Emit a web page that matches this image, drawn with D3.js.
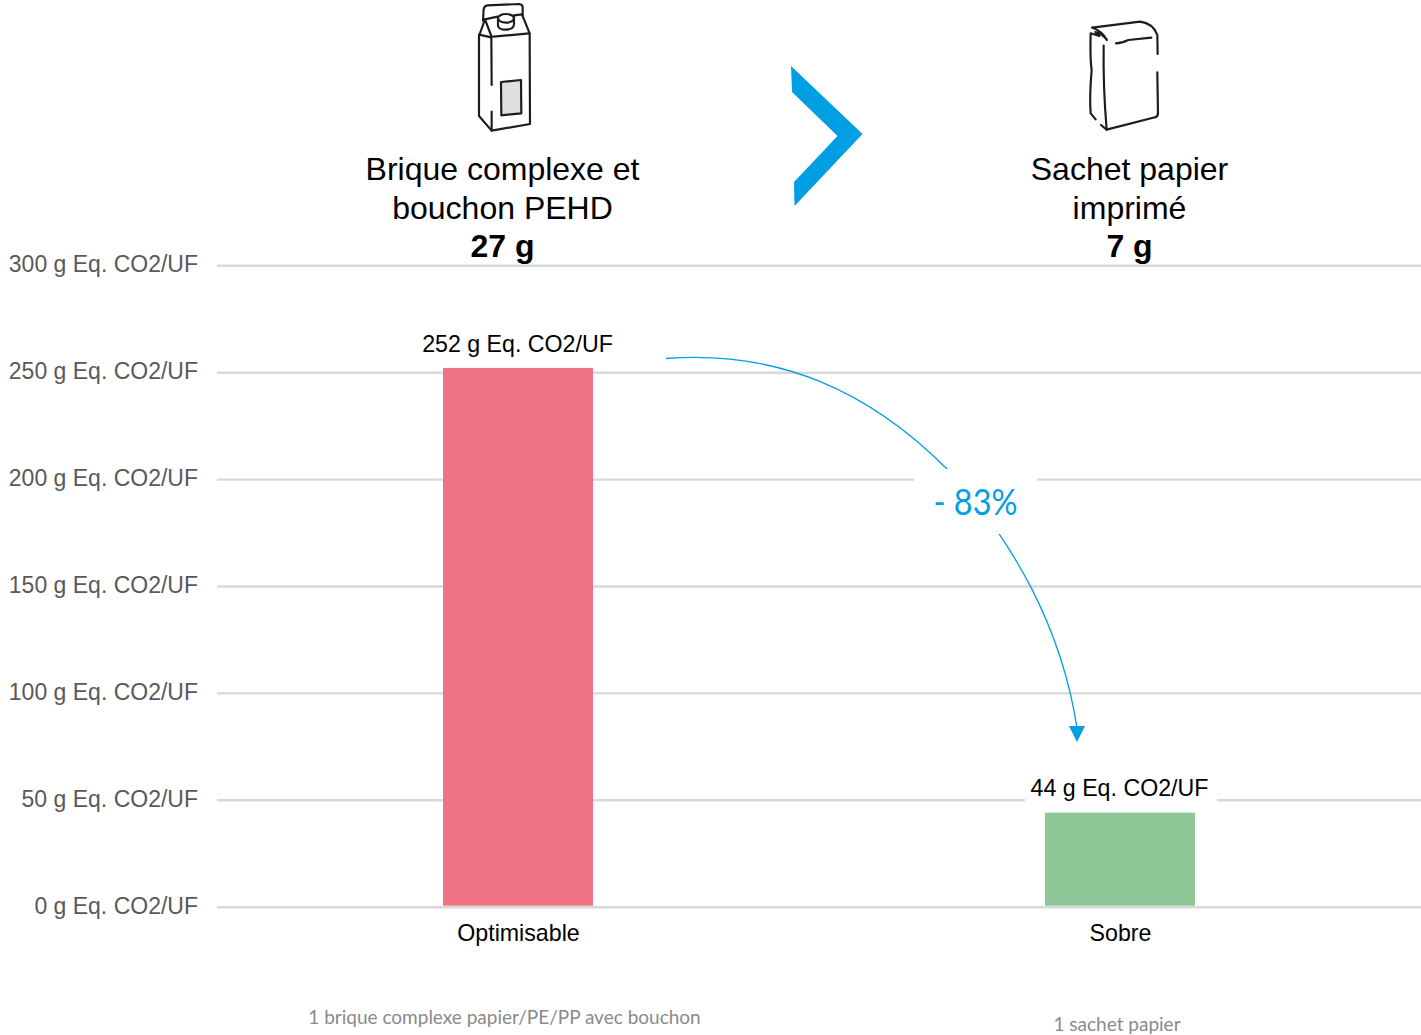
<!DOCTYPE html>
<html lang="fr">
<head>
<meta charset="utf-8">
<title>Empreinte carbone des emballages</title>
<script src="https://cdnjs.cloudflare.com/ajax/libs/d3/7.9.0/d3.min.js"></script>
<style>
  html, body { margin: 0; padding: 0; background: #fff; overflow: hidden; }
  svg { display: block; }
  text { font-family: "Liberation Sans", Arial, sans-serif; }
</style>
</head>
<body>
<svg id="chart" width="1421" height="1035"></svg>
<script>
// Emission values per packaging profile
const categories = ["Optimisable", "Sobre"];
const values = [252, 44];
const valueLabels = ["252 g Eq. CO2/UF", "44 g Eq. CO2/UF"];
const barColors = ["#ee7383", "#8ec698"];
const yTicks = [0, 50, 100, 150, 200, 250, 300];
const unit = " g Eq. CO2/UF";

// Packaging headings and footnotes
const packNames = [["Brique complexe et", "bouchon PEHD"], ["Sachet papier", "imprimé"]];
const packWeights = ["27 g", "7 g"];
const packNotes = ["1 brique complexe papier/PE/PP avec bouchon", "1 sachet papier"];
const reduction = "- 83%";

const svg = d3.select("#chart");
const x = d3.scaleBand().domain(categories).range([217, 1421]).padding(0);
const y = d3.scaleLinear().domain([0, 300]).range([906.7, 265.3]);
const BLUE = "#009fe3";
const barWidth = 150;

// Speckled fill for the carton's window
const speck = svg.append("defs").append("pattern").attr("id", "speck")
  .attr("width", 12).attr("height", 12).attr("patternUnits", "userSpaceOnUse");
speck.append("rect").attr("width", 12).attr("height", 12).attr("fill", "#e4e4e4");
speck.append("path").attr("d", "M1,2h2v2h-2z M7,1h2v2h-2z M4,7h2v2h-2z M10,8h2v2h-2z").attr("fill", "#bdbdbd");

// Horizontal grid and value axis
const yAxis = d3.axisLeft(y).tickValues(yTicks).tickSize(-1204).tickPadding(19)
  .tickFormat(d => d + unit);
const gy = svg.append("g").attr("transform", "translate(217,0)").call(yAxis);
gy.select(".domain").remove();
gy.selectAll(".tick line").attr("stroke", "#d9d9d9").attr("stroke-width", 2.4);
gy.selectAll(".tick text")
  .attr("y", -1)
  .attr("fill", "#595959")
  .attr("font-size", 23)
  .style("font-family", '"Liberation Sans", Arial, sans-serif');

// Bars
svg.append("g").selectAll("rect").data(categories).join("rect")
  .attr("x", d => x(d) + x.bandwidth() / 2 - barWidth / 2)
  .attr("y", (d, i) => y(values[i]))
  .attr("width", barWidth)
  .attr("height", (d, i) => y(0) - y(values[i]) - 1)
  .attr("fill", (d, i) => barColors[i]);

// Category labels under the baseline
const xAxis = d3.axisBottom(x).tickSize(0).tickPadding(18);
const gx = svg.append("g").attr("transform", `translate(0,${y(0)})`).call(xAxis);
gx.select(".domain").remove();
gx.selectAll(".tick text")
  .attr("dx", 0.5)
  .attr("fill", "#000")
  .attr("font-size", 23.2)
  .style("font-family", '"Liberation Sans", Arial, sans-serif');

// Curved reduction arrow, interrupted by the percentage box
svg.append("path")
  .attr("d", "M666,358.5 C780,350 870,392 947,469 C1015,542 1062,630 1077,728")
  .attr("fill", "none").attr("stroke", BLUE).attr("stroke-width", 1.3);
svg.append("path").attr("d", "M1069,726 L1085,726 L1077,742 Z").attr("fill", BLUE);
svg.append("rect").attr("x", 914).attr("y", 469).attr("width", 123).attr("height", 65).attr("fill", "#fff");
svg.append("text").attr("x", 975.5).attr("y", 514.5).attr("text-anchor", "middle")
  .attr("fill", BLUE).attr("font-size", 36).attr("textLength", 84).attr("lengthAdjust", "spacingAndGlyphs")
  .style("font-family", "Lato, sans-serif").text(reduction);

// Value labels above the bars, on a white ground that hides the grid
const labelBox = [null, { x: 1025, y: 777, w: 192, h: 27 }];
labelBox.forEach(b => {
  if (b) svg.append("rect").attr("x", b.x).attr("y", b.y).attr("width", b.w).attr("height", b.h).attr("fill", "#fff");
});
svg.append("g").selectAll("text").data(categories).join("text")
  .attr("x", d => x(d) + x.bandwidth() / 2 - 0.5)
  .attr("y", (d, i) => y(values[i]) - 16 - i)
  .attr("text-anchor", "middle").attr("fill", "#000").attr("font-size", 23.2)
  .text((d, i) => valueLabels[i]);

// Packaging headings
const headingX = [502.5, 1129.5];
packNames.forEach((lines, i) => {
  const t = svg.append("text").attr("text-anchor", "middle").attr("fill", "#000").attr("font-size", 32);
  lines.forEach((line, k) => t.append("tspan").attr("x", headingX[i]).attr("y", 180 + k * 38.5).text(line));
  t.append("tspan").attr("x", headingX[i]).attr("y", 257).attr("font-weight", "bold").text(packWeights[i]);
});

// Footnotes
const noteAnchors = [[504.5, 1024], [1117, 1031]];
svg.append("g").selectAll("text").data(packNotes).join("text")
  .attr("x", (d, i) => noteAnchors[i][0]).attr("y", (d, i) => noteAnchors[i][1])
  .attr("text-anchor", "middle").attr("fill", "#8a8a8a").attr("font-size", 19)
  .style("font-family", "Lato, sans-serif").text(d => d);

// Chevron between the two packagings
svg.append("path")
  .attr("d", "M791,66 L862.5,134 L794.5,206 L794,182 L837.5,136 L792,92 Z")
  .attr("fill", BLUE);

// Carton icon
const carton = svg.append("g").attr("transform", "translate(440,0) scale(0.3333)")
  .attr("fill", "none").attr("stroke", "#1d1d1b").attr("stroke-width", 6.5)
  .attr("stroke-linejoin", "round").attr("stroke-linecap", "round");
carton.append("path").attr("d", "M129,62 L131,27 Q133,17 143,16 L238,12 Q248,13 248,22 L248,48");
carton.append("path").attr("d", "M117,108 L135,58 L172,50");
carton.append("path").attr("d", "M222,46 L246,43 L269,100 L270,372 L155,392 L117,348 L117,108");
carton.append("path").attr("d", "M135,58 L154,108 L155,255");
carton.append("path").attr("d", "M117,104 L154,112 M160,110 L268,100");
carton.append("path").attr("d", "M155,335 L155,392");
carton.append("path").attr("d", "M174,54 L174,78 Q178,90 199,89 Q221,88 222,72 L222,47");
carton.append("ellipse").attr("cx", 198).attr("cy", 55).attr("rx", 24).attr("ry", 13);
carton.append("path").attr("d", "M183,246 L243,240 L244,340 L184,346 Z").attr("fill", "url(#speck)");

// Paper bag icon
const bag = svg.append("g").attr("transform", "translate(1060,0) scale(0.3333)")
  .attr("fill", "none").attr("stroke", "#1d1d1b").attr("stroke-width", 6.5)
  .attr("stroke-linejoin", "round").attr("stroke-linecap", "round");
bag.append("path").attr("d", "M97,83 L240,65 Q280,70 292,105 L293,162");
bag.append("path").attr("d", "M292,217 L294,340 Q294,350 285,352 L140,389 L123,375");
bag.append("path").attr("d", "M97,83 Q125,92 141,120 Q125,100 106,96 L118,108 L92,100 Q90,180 95,210 Q88,290 92,340 L107,358");
bag.append("path").attr("d", "M131,137 Q129,260 140,389");
bag.append("path").attr("d", "M168,130 Q185,130 205,120 L274,113");
</script>
</body>
</html>
